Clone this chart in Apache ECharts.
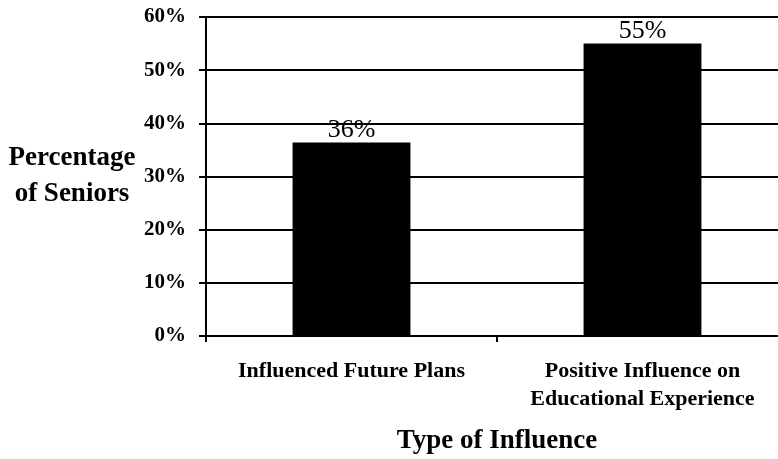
<!DOCTYPE html>
<html>
<head>
<meta charset="utf-8">
<script src="https://cdn.jsdelivr.net/npm/echarts@6/dist/echarts.min.js"></script>
<style>
  html, body { margin: 0; padding: 0; background: #fff; }
  #box { width: 778px; height: 459px; }
</style>
</head>
<body>
<div id="box"></div>
<script>
const categories = ['Influenced Future Plans', 'Positive Influence on\nEducational Experience']
const values = [36.4, 55.0]
const yTicks = { min: 0, max: 60, interval: 10 }

const serif = '"Liberation Serif", "DejaVu Serif", serif'
const myChart = echarts.init(document.getElementById('box'))
const option = {
  backgroundColor: '#fff',
  animation: false,
  grid: { left: 206, width: 582, top: 17, bottom: 123, outerBoundsMode: 'none', containLabel: false },
  xAxis: {
    type: 'category',
    data: categories,
    name: 'Type of Influence',
    nameLocation: 'middle',
    nameGap: 92,
    nameTextStyle: { fontFamily: serif, fontWeight: 'bold', fontSize: 27, color: '#000' },
    axisLine: { lineStyle: { color: '#000', width: 2 } },
    axisTick: { show: true, interval: 0, length: 6, lineStyle: { color: '#000', width: 2 } },
    axisLabel: {
      interval: 0,
      fontFamily: serif, fontWeight: 'bold', fontSize: 22, color: '#000',
      margin: 21, lineHeight: 28
    }
  },
  yAxis: {
    type: 'value',
    min: yTicks.min,
    max: yTicks.max,
    interval: yTicks.interval,
    name: 'Percentage\nof Seniors',
    nameLocation: 'middle',
    nameRotate: 0,
    nameGap: 134,
    nameTextStyle: {
      fontFamily: serif, fontWeight: 'bold', fontSize: 27, color: '#000',
      align: 'center', verticalAlign: 'middle', lineHeight: 36
    },
    axisLine: { show: true, lineStyle: { color: '#000', width: 2 } },
    axisTick: { show: true, length: 7, lineStyle: { color: '#000', width: 2 } },
    axisLabel: {
      fontFamily: serif, fontWeight: 'bold', fontSize: 21, color: '#000', margin: 20,
      formatter: '{value}%'
    },
    splitLine: { lineStyle: { color: '#000', width: 2 } }
  },
  series: [{
    type: 'bar',
    data: values,
    barWidth: '40.5%',
    itemStyle: { color: '#000' },
    label: {
      show: true,
      position: 'top',
      distance: -1,
      fontFamily: serif, fontSize: 26, color: '#000',
      formatter: function (p) { return Math.round(p.value) + '%' }
    }
  }]
}
myChart.setOption(option)
</script>
</body>
</html>
